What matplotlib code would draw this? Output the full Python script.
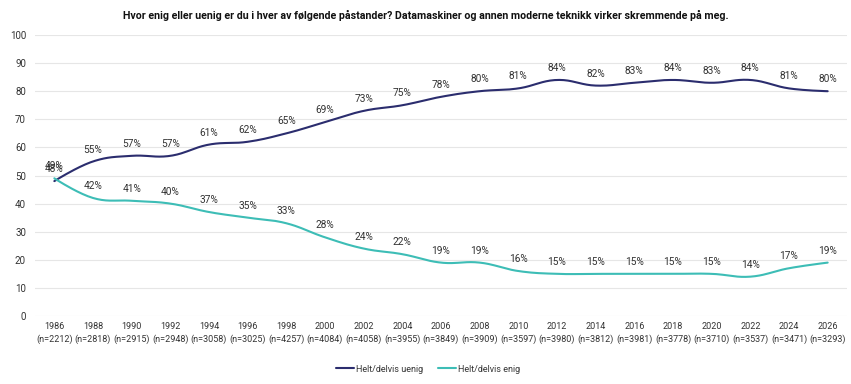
import numpy as np
import matplotlib
matplotlib.use("Agg")
import matplotlib.pyplot as plt

years = ["1986", "1988", "1990", "1992", "1994", "1996", "1998", "2000", "2002", "2004", "2006",
         "2008", "2010", "2012", "2014", "2016", "2018", "2020", "2022", "2024", "2026"]
ns = ["2212", "2818", "2915", "2948", "3058", "3025", "4257", "4084", "4058", "3955", "3849",
      "3909", "3597", "3980", "3812", "3981", "3778", "3710", "3537", "3471", "3293"]
uenig = [48, 55, 57, 57, 61, 62, 65, 69, 73, 75, 78, 80, 81, 84, 82, 83, 84, 83, 84, 81, 80]
enig = [49, 42, 41, 40, 37, 35, 33, 28, 24, 22, 19, 19, 16, 15, 15, 15, 15, 15, 14, 17, 19]

title = "Hvor enig eller uenig er du i hver av følgende påstander? Datamaskiner og annen moderne teknikk virker skremmende på meg."
series = [("Helt/delvis uenig", uenig, "#2b2d6e"), ("Helt/delvis enig", enig, "#3dbdb6")]

plt.rcParams['font.family'] = ['Roboto', 'DejaVu Sans']
txt = "#333333"


def spline(xs, ys, smooth=1.5, n=20):
    xs = np.asarray(xs, float); ys = np.asarray(ys, float)
    outx, outy = [xs[0]], [ys[0]]
    m = len(xs)
    for i in range(m - 1):
        x0, y0 = xs[i], ys[i]
        x1, y1 = xs[i + 1], ys[i + 1]
        if 0 < i:
            xp, yp = xs[i - 1], ys[i - 1]
            lx = (smooth * x0 + x1) / (smooth + 1)
            ly = (smooth * y0 + y1) / (smooth + 1)
            rx = (smooth * x0 + xp) / (smooth + 1)
            ry = (smooth * y0 + yp) / (smooth + 1)
            slope = (ly - ry) / (lx - rx)
            c1x = lx; c1y = y0 + (lx - x0) * slope
        else:
            c1x, c1y = x0, y0
        if i + 2 < m:
            xn = xs[i + 2]; yn = ys[i + 2]
            lx = (smooth * x1 + x0) / (smooth + 1)
            ly = (smooth * y1 + y0) / (smooth + 1)
            rx = (smooth * x1 + xn) / (smooth + 1)
            ry = (smooth * y1 + yn) / (smooth + 1)
            slope = (ry - ly) / (rx - lx)
            c2x = lx; c2y = y1 + (lx - x1) * slope
        else:
            c2x, c2y = x1, y1
        t = np.linspace(0, 1, n)[1:]
        bx = (1 - t) ** 3 * x0 + 3 * (1 - t) ** 2 * t * c1x + 3 * (1 - t) * t ** 2 * c2x + t ** 3 * x1
        by = (1 - t) ** 3 * y0 + 3 * (1 - t) ** 2 * t * c1y + 3 * (1 - t) * t ** 2 * c2y + t ** 3 * y1
        outx.extend(bx); outy.extend(by)
    return np.array(outx), np.array(outy)


fig = plt.figure(figsize=(8.51, 3.84), dpi=100)
ax = fig.add_axes([35 / 851, (384 - 316) / 384, (847 - 35) / 851, (316 - 35) / 384])
x = np.arange(len(years))
for name, vals, col in series:
    sx, sy = spline(x, vals)
    ax.plot(sx, sy, color=col, lw=1.5, label=name, solid_capstyle='round')
    for xi, v in zip(x, vals):
        ax.annotate(f"{v}%", (xi, v), xytext=(0, 5), textcoords="offset points",
                    ha="center", va="bottom", fontsize=7.3, color=txt)

ax.set_xlim(-0.5, len(years) - 0.5)
ax.set_ylim(0, 100)
ax.set_yticks(range(0, 101, 10))
ax.set_xticks(x)
ax.set_xticklabels([f"{y}\n(n={n})" for y, n in zip(years, ns)], fontsize=6.5, color=txt, linespacing=1.5)
ax.tick_params(axis='y', labelsize=7, labelcolor=txt, length=0, pad=6.5)
ax.tick_params(axis='x', length=0, pad=4)
ax.grid(axis='y', color="#e6e6e6", lw=0.8)
ax.set_axisbelow(True)
for s in ax.spines.values():
    s.set_visible(False)

fig.text(0.5, 1 - 15 / 384, title, ha="center", va="center", fontsize=7.7, fontweight="bold", color="#111111")
fig.legend(loc="center", bbox_to_anchor=(428 / 851, 1 - 369 / 384), ncol=2, frameon=False,
           fontsize=6.5, handlelength=2.0, columnspacing=1.6, handletextpad=0.2,
           labelcolor=txt)

fig.savefig("out.png", dpi=100)
